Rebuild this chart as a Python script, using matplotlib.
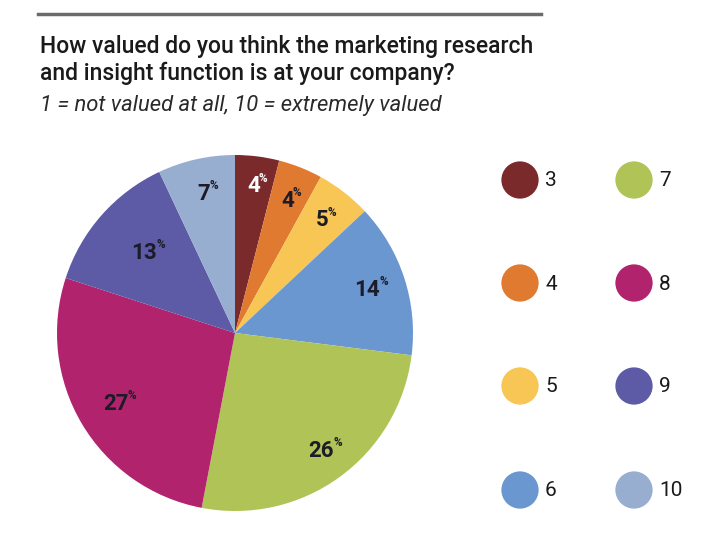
import numpy as np
import matplotlib
matplotlib.use('Agg')
import matplotlib.pyplot as plt
from matplotlib.lines import Line2D

# --- data ---
categories = ['3', '4', '5', '6', '7', '8', '9', '10']
shares     = [4, 4, 5, 14, 26, 27, 13, 7]
colors     = ['#7B2A2C', '#E07A30', '#F7C654', '#6A97D0',
              '#AFC356', '#B1246D', '#5D5AA6', '#97AED0']
label_colors = ['white'] + ['#1c1c28'] * 7
label_radius = [0.83, 0.8, 0.8, 0.78, 0.82, 0.78, 0.68, 0.8]

title    = 'How valued do you think the marketing research\nand insight function is at your company?'
subtitle = '1 = not valued at all, 10 = extremely valued'

plt.rcParams['font.family'] = ['Roboto', 'DejaVu Sans']

fig = plt.figure(figsize=(7.2, 5.45), dpi=100)

# top rule
fig.add_artist(Line2D([38/720, 541/720], [1 - 14/545, 1 - 14/545],
                      color='#6b6b6b', linewidth=2.5))

fig.text(40/720, 1 - 35/545, title, fontsize=16.5, fontweight='medium',
         color='#1a1a1a', va='top', ha='left', linespacing=1.2)
fig.text(40/720, 1 - 95/545, subtitle, fontsize=15.8, style='italic',
         color='#2a2a2a', va='top', ha='left')

# --- pie ---
ax = fig.add_axes([57/720, 34/545, 356/720, 356/545])
wedges, _ = ax.pie(shares, colors=colors, startangle=90, counterclock=False,
                   radius=1.0, wedgeprops=dict(linewidth=0))
ax.set_xlim(-1, 1)
ax.set_ylim(-1, 1)
ax.set_aspect('equal')
ax.axis('off')

for w, v, tc, r in zip(wedges, shares, label_colors, label_radius):
    ang = np.deg2rad((w.theta1 + w.theta2) / 2)
    x, y = r * np.cos(ang), r * np.sin(ang)
    ax.text(x, y, str(v), fontsize=16, fontweight='bold', color=tc,
            ha='center', va='center')
    ax.annotate('%', (x, y), xytext=(2 + 5 * len(str(v)), 6),
                textcoords='offset points', fontsize=8.5, fontweight='bold',
                color=tc, ha='center', va='center')

# --- legend ---
lax = fig.add_axes([0, 0, 1, 1])
lax.set_xlim(0, 720)
lax.set_ylim(545, 0)
lax.axis('off')
col_x = [520, 634]
row_y = [180, 283, 386, 490]
for i, (cat, c) in enumerate(zip(categories, colors)):
    cx = col_x[i // 4]
    cy = row_y[i % 4]
    lax.scatter([cx], [cy], s=720, color=c, edgecolors='none')
    lax.text(cx + 25, cy + 1, cat, fontsize=15, color='#1a1a1a',
             ha='left', va='center')

plt.savefig('out.png', dpi=100)
